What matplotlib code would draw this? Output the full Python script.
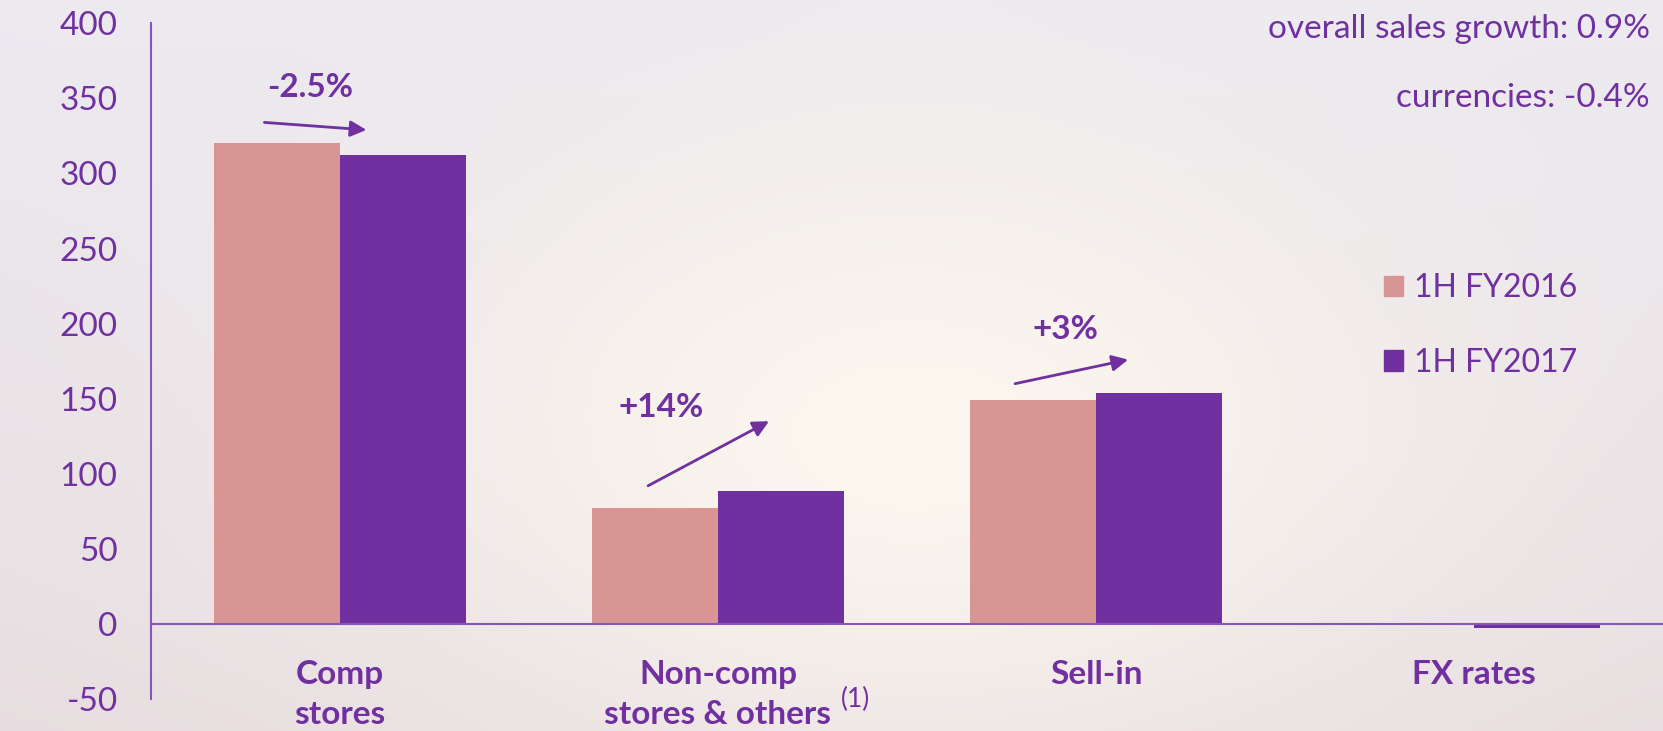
import numpy as np
import matplotlib
matplotlib.use('Agg')
import matplotlib.pyplot as plt
from matplotlib.patches import Patch

CATEGORIES = ['Comp\nstores', 'Non-comp\nstores & others', 'Sell-in', 'FX rates']
SERIES = ['1H FY2016', '1H FY2017']
FY2016 = [320, 77.5, 149, 0]
FY2017 = [312, 88.5, 153.5, -2.5]
CHANGES = ['-2.5%', '+14%', '+3%']
Y_TICKS = [-50, 0, 50, 100, 150, 200, 250, 300, 350, 400]
NOTES = ['overall sales growth: 0.9%', 'currencies: -0.4%']

PINK = '#D99594'
PURPLE = '#7030A0'
AXIS = '#8A55B8'

plt.rcParams['font.family'] = ['Lato', 'DejaVu Sans']
plt.rcParams['axes.unicode_minus'] = False

fig = plt.figure(figsize=(16.63, 7.31), dpi=100)

# faded photo-like background
bg = fig.add_axes([0, 0, 1, 1], zorder=-10)
yy, xx = np.mgrid[0:1:200j, 0:1:400j]
top = np.array([236, 234, 240]) / 255
bottom = np.array([231, 221, 224]) / 255
centre = np.array([251, 246, 238]) / 255
edge = top * (1 - yy[..., None]) + bottom * yy[..., None]
w = np.exp(-((xx - 0.55) / 0.33) ** 2 - ((yy - 0.6) / 0.45) ** 2)[..., None]
bg.imshow(edge * (1 - w) + centre * w, aspect='auto', extent=(0, 1, 0, 1))
bg.axis('off')

ax = fig.add_axes([151 / 1663, 1 - 699 / 731, 1512 / 1663, (699 - 23.3) / 731])
ax.set_facecolor('none')

for s in ['top', 'right']:
    ax.spines[s].set_visible(False)
ax.spines['bottom'].set_position(('data', 0))
ax.spines['bottom'].set_color(AXIS)
ax.spines['left'].set_color(AXIS)
ax.spines['bottom'].set_linewidth(1.5)
ax.spines['left'].set_linewidth(1.5)

x = np.arange(len(CATEGORIES))
bw = 1 / 3
ax.bar(x - bw / 2, FY2016, bw, color=PINK, linewidth=0)
ax.bar(x + bw / 2, FY2017, bw, color=PURPLE, linewidth=0)

ax.set_xlim(-0.5, 3.5)
ax.set_ylim(-50, 400)
ax.set_yticks(Y_TICKS)
ax.tick_params(axis='y', length=0, pad=24, labelsize=24, labelcolor=PURPLE)
ax.tick_params(axis='x', length=0, pad=26)
ax.set_xticks(x)
ax.set_xticklabels(CATEGORIES, fontsize=24, fontweight='bold', color=PURPLE,
                   linespacing=1.45)

# footnote marker next to "others"
ax.text(1.325, -50, '(1)', fontsize=19, color=PURPLE, ha='left', va='center',
        clip_on=False)

# growth arrows
arrows = [((-0.20, 334), (0.07, 329)),
          ((0.815, 92), (1.135, 135)),
          ((1.786, 160), (2.085, 176))]
text_pos = [(-0.08, 357), (0.85, 144), (1.92, 196)]
for label, (start, end), (tx, ty) in zip(CHANGES, arrows, text_pos):
    ax.annotate('', xy=end, xytext=start,
                arrowprops=dict(arrowstyle='-|>', color=PURPLE, lw=2,
                                mutation_scale=24, shrinkA=0, shrinkB=0))
    ax.text(tx, ty, label, fontsize=24, fontweight='bold', color=PURPLE,
            ha='center', va='center')

fig.text(1650 / 1663, 1 - 28.6 / 731, NOTES[0], fontsize=24, color=PURPLE,
         ha='right', va='center')
fig.text(1650 / 1663, 1 - 97.6 / 731, NOTES[1], fontsize=24, color=PURPLE,
         ha='right', va='center')

handles = [Patch(color=PINK), Patch(color=PURPLE)]
fig.legend(handles, SERIES, loc='center left',
           bbox_to_anchor=(1384 / 1663, 1 - 325.5 / 731), frameon=False,
           fontsize=23, labelcolor=PURPLE, handlelength=0.6, handleheight=0.6,
           handletextpad=0.35, labelspacing=1.4, borderpad=0, borderaxespad=0)

fig.savefig('out.png', dpi=100)
